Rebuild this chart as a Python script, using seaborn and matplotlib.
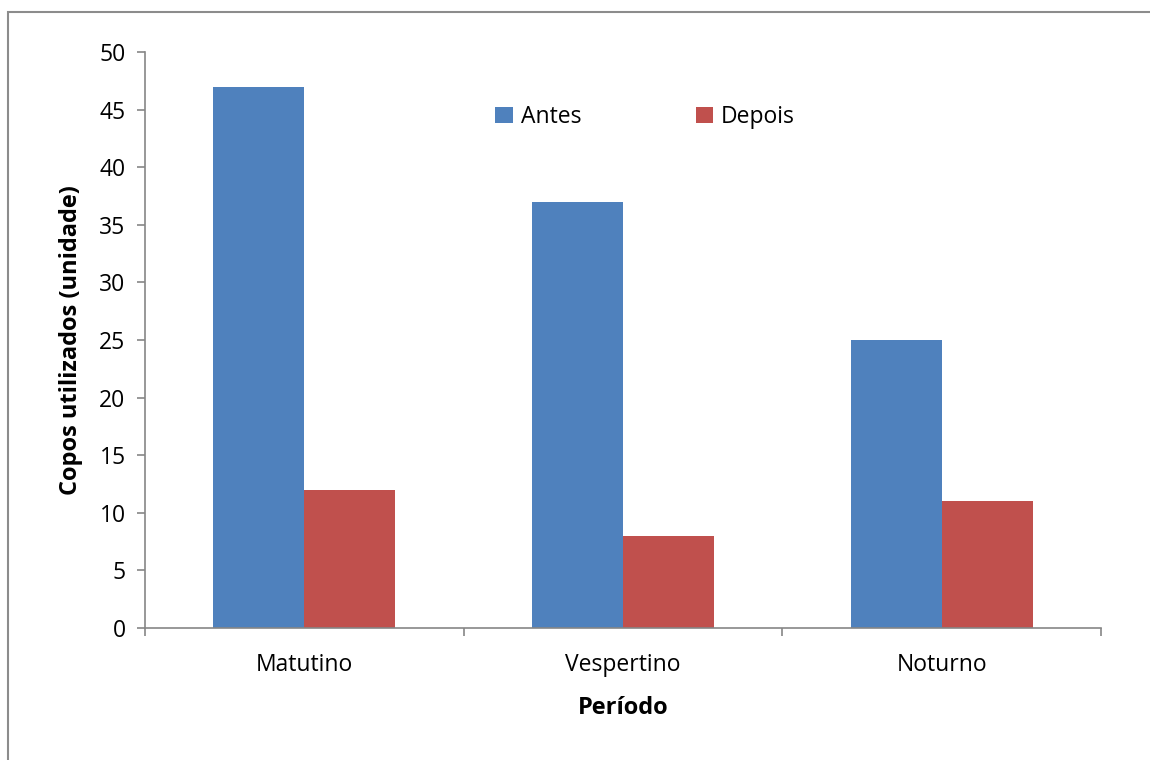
import pandas as pd
import matplotlib.pyplot as plt
import seaborn as sns
from matplotlib.patches import Rectangle

# Data
periodos = ['Matutino', 'Vespertino', 'Noturno']
antes = [47, 37, 25]
depois = [12, 8, 11]
series = ['Antes', 'Depois']

df = pd.DataFrame({
    'Período': periodos * 2,
    'Copos': antes + depois,
    'Série': ['Antes'] * 3 + ['Depois'] * 3,
})

sns.set_style('white')
plt.rcParams['font.family'] = ['Open Sans', 'DejaVu Sans']
plt.rcParams['text.color'] = 'black'

fig = plt.figure(figsize=(11.5, 7.6), dpi=100)
ax = fig.add_axes([0.1261, 0.1737, 0.8313, 0.7579])

sns.barplot(data=df, x='Período', y='Copos', hue='Série', hue_order=series,
            palette=['#4F81BD', '#C0504D'], width=0.571, saturation=1,
            linewidth=0, ax=ax)

ax.set_xlim(-0.5, 2.5)
ax.set_ylim(0, 50)
ax.set_yticks(range(0, 51, 5))
ax.set_xticks([-0.5, 0.5, 1.5, 2.5], minor=True)
ax.tick_params(axis='x', which='major', length=0, pad=18, labelsize=16.5, labelcolor='black')
ax.tick_params(axis='x', which='minor', length=6, width=1.2, color='#868686', direction='out', bottom=True)
ax.tick_params(axis='y', length=6, width=1.2, color='#868686', direction='out', left=True,
               labelsize=16.5, labelcolor='black', pad=8)

for s in ['top', 'right']:
    ax.spines[s].set_visible(False)
for s in ['left', 'bottom']:
    ax.spines[s].set_color('#868686')
    ax.spines[s].set_linewidth(1.2)

ax.set_xlabel('Período', fontsize=17, fontweight='bold', labelpad=14, color='black')
ax.set_ylabel('Copos utilizados (unidade)', fontsize=17, fontweight='bold', labelpad=12, color='black')

handles, labels = ax.get_legend_handles_labels()
ax.legend(handles, labels, loc='center', bbox_to_anchor=(0.523, 0.887), ncol=2,
          frameon=False, fontsize=16.5, columnspacing=5.0, handlelength=0.75,
          handleheight=0.75, handletextpad=0.35)

# outer frame lines (left and top)
fig.patches.append(Rectangle((8 / 1150, -0.1), 1.2, 1.1 - 12 / 760,
                             transform=fig.transFigure, fill=False,
                             edgecolor='#8c8c8c', linewidth=1.5))

fig.savefig('out.png', dpi=100)
